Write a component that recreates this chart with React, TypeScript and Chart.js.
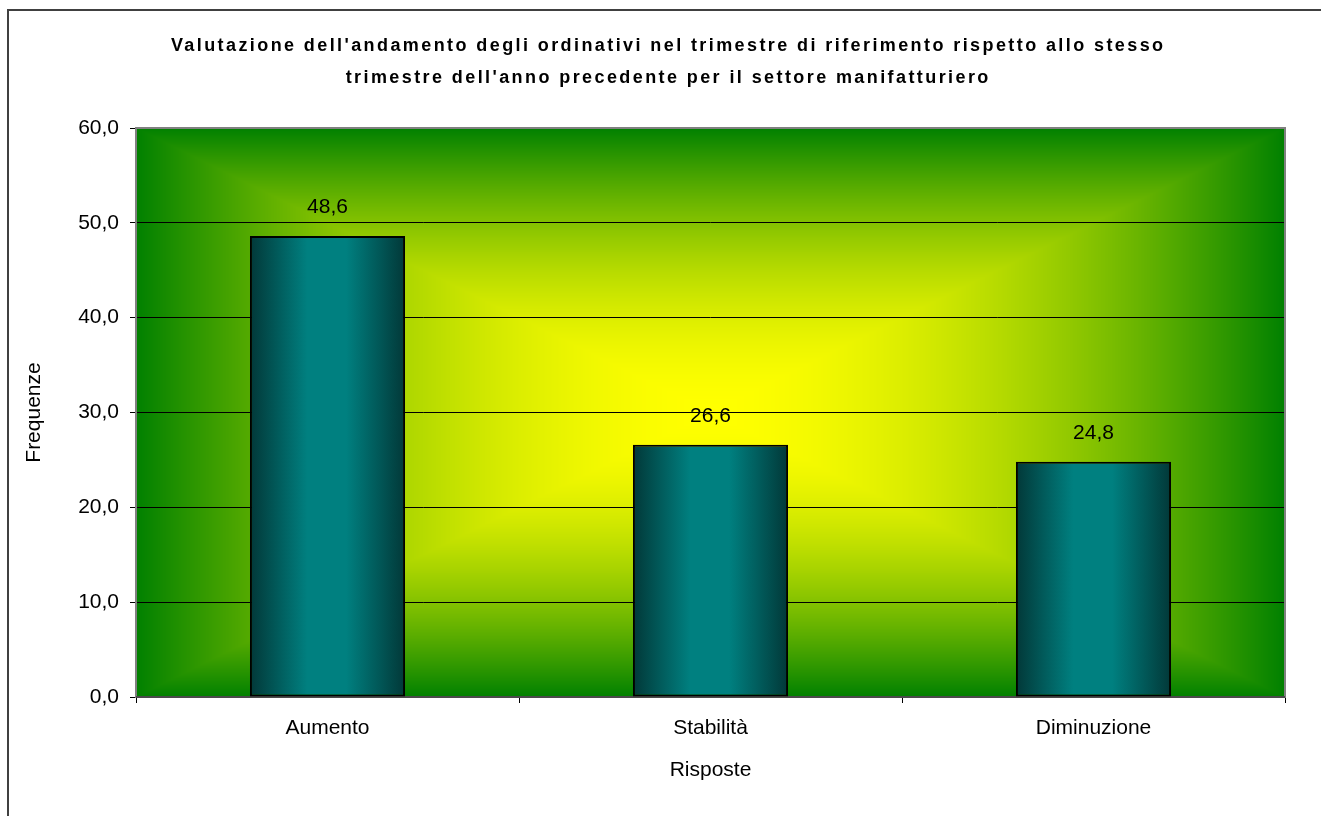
import React, { useEffect, useRef } from "react";
import { Chart, registerables } from "chart.js";

Chart.register(...registerables);

const CATEGORIES = ["Aumento", "Stabilità", "Diminuzione"];
const VALUES = [48.6, 26.6, 24.8];
const TITLE_LINES = [
  "Valutazione dell'andamento degli ordinativi nel trimestre di riferimento rispetto allo stesso",
  "trimestre dell'anno precedente per il settore manifatturiero",
];
const Y_TITLE = "Frequenze";
const X_TITLE = "Risposte";
const Y_MIN = 0;
const Y_MAX = 60;
const Y_STEP = 10;

const FONT = '"Liberation Sans", Arial, sans-serif';
const BAR_PCT = 0.405;
const fmt = (v: number) => v.toFixed(1).replace(".", ",");

const bgPlugin = {
  id: "bgGradient",
  beforeDraw(chart: any) {
    const { ctx, chartArea: a } = chart;
    const w = Math.round(a.right - a.left);
    const h = Math.round(a.bottom - a.top);
    const off = document.createElement("canvas");
    off.width = w;
    off.height = h;
    const octx = off.getContext("2d")!;
    const img = octx.createImageData(w, h);
    const cx = w / 2;
    const cy = h / 2;
    for (let y = 0; y < h; y++) {
      for (let x = 0; x < w; x++) {
        const t = Math.max(Math.abs(x + 0.5 - cx) / cx, Math.abs(y + 0.5 - cy) / cy);
        const s = Math.pow(t, 1.8);
        const i = (y * w + x) * 4;
        img.data[i] = 255 * (1 - s);
        img.data[i + 1] = 255 + (128 - 255) * s;
        img.data[i + 2] = 0;
        img.data[i + 3] = 255;
      }
    }
    octx.putImageData(img, 0, 0);
    ctx.save();
    ctx.drawImage(off, a.left, a.top);
    ctx.restore();
  },
  beforeDatasetsDraw(chart: any) {
    const { ctx, chartArea: a } = chart;
    ctx.save();
    ctx.strokeStyle = "#808080";
    ctx.lineWidth = 2;
    ctx.strokeRect(a.left, a.top, a.right - a.left, a.bottom - a.top);
    ctx.strokeStyle = "#383838";
    ctx.lineWidth = 1.5;
    ctx.beginPath();
    ctx.moveTo(a.left, a.bottom);
    ctx.lineTo(a.right, a.bottom);
    ctx.stroke();
    ctx.restore();
    const meta = chart.getDatasetMeta(0);
    meta.data.forEach((bar: any) => {
      const { x, width } = bar.getProps(["x", "width"], true);
      if (!isFinite(x) || !isFinite(width)) return;
      const g = ctx.createLinearGradient(x - width / 2, 0, x + width / 2, 0);
      g.addColorStop(0, "#023838");
      g.addColorStop(0.37, "#008080");
      g.addColorStop(0.62, "#008080");
      g.addColorStop(1, "#023838");
      bar.options = { ...bar.options, backgroundColor: g };
    });
  },
};

const labelsPlugin = {
  id: "valueLabels",
  afterDatasetsDraw(chart: any) {
    const { ctx } = chart;
    const meta = chart.getDatasetMeta(0);
    ctx.save();
    ctx.font = `21px ${FONT}`;
    ctx.fillStyle = "#000";
    ctx.textAlign = "center";
    ctx.textBaseline = "middle";
    meta.data.forEach((bar: any, i: number) => {
      ctx.fillText(fmt(VALUES[i]), bar.x, bar.y - 29);
    });
    ctx.restore();
  },
};

const titlePlugin = {
  id: "customTitle",
  afterDraw(chart: any) {
    const { ctx } = chart;
    ctx.save();
    ctx.font = `bold 18px ${FONT}`;
    ctx.fillStyle = "#000";
    ctx.textAlign = "center";
    ctx.textBaseline = "alphabetic";
    const w0 = ctx.measureText(TITLE_LINES[0]).width;
    const ls = Math.max(0, (995 - w0) / TITLE_LINES[0].length);
    (ctx as any).letterSpacing = `${ls.toFixed(2)}px`;
    ctx.fillText(TITLE_LINES[0], 667 + ls / 2, 51);
    ctx.fillText(TITLE_LINES[1], 667 + ls / 2, 83);
    ctx.restore();
    ctx.save();
    ctx.strokeStyle = "#404040";
    ctx.lineWidth = 2;
    ctx.strokeRect(8, 10, 1400, 900);
    ctx.restore();
  },
};

export default function App() {
  const ref = useRef<HTMLCanvasElement | null>(null);

  useEffect(() => {
    if (!ref.current) return;
    const chart = new Chart(ref.current, {
      type: "bar",
      data: {
        labels: CATEGORIES,
        datasets: [
          {
            data: VALUES,
            backgroundColor: "#008080",
            borderColor: "#000",
            borderWidth: 2,
            borderSkipped: false,
            barPercentage: BAR_PCT,
            categoryPercentage: 1,
          },
        ],
      },
      options: {
        responsive: false,
        animation: false,
        devicePixelRatio: 1,
        layout: { padding: { left: 0, top: 128, right: 36, bottom: 0 } },
        plugins: {
          legend: { display: false },
          tooltip: { enabled: false },
          title: { display: false },
        },
        scales: {
          x: {
            afterFit: (s: any) => {
              s.height = 119;
            },
            border: { display: false },
            grid: {
              display: true,
              drawOnChartArea: false,
              drawTicks: true,
              tickLength: 6,
              offset: true,
              color: "#000",
              lineWidth: 1,
            },
            ticks: {
              color: "#000",
              font: { family: FONT, size: 21 },
              padding: 13,
              maxRotation: 0,
            },
            title: {
              display: true,
              text: X_TITLE,
              color: "#000",
              font: { family: FONT, size: 21 },
              padding: { top: 0, bottom: 33 },
            },
          },
          y: {
            min: Y_MIN,
            max: Y_MAX,
            afterFit: (s: any) => {
              s.width = 136;
            },
            border: { display: false },
            grid: {
              color: "#000",
              lineWidth: 1,
              drawTicks: true,
              tickLength: 6,
            },
            ticks: {
              stepSize: Y_STEP,
              color: "#000",
              font: { family: FONT, size: 21 },
              padding: 11,
              callback: (v: any) => fmt(Number(v)),
            },
            title: {
              display: true,
              text: Y_TITLE,
              color: "#000",
              font: { family: FONT, size: 21 },
              padding: { top: 22, bottom: 0 },
            },
          },
        },
      },
      plugins: [bgPlugin, labelsPlugin, titlePlugin],
    });
    return () => chart.destroy();
  }, []);

  return (
    <div style={{ position: "fixed", left: 0, top: 0, width: 1321, height: 816, background: "#fff" }}>
      <canvas ref={ref} width={1321} height={816} style={{ display: "block" }} />
    </div>
  );
}
